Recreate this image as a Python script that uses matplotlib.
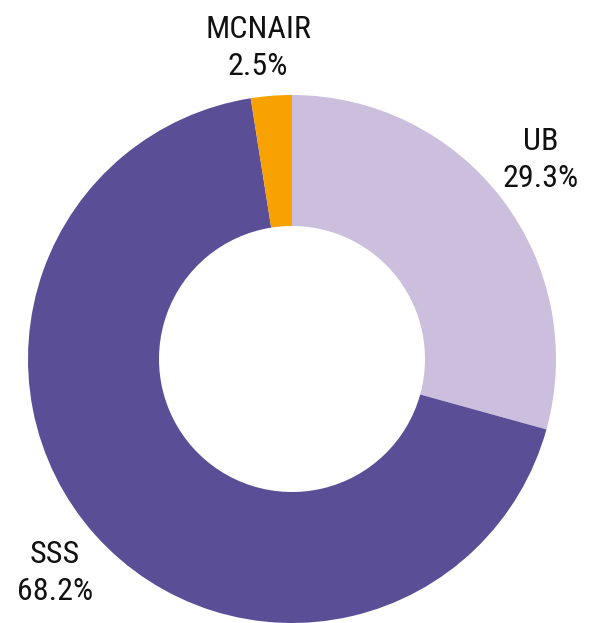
import matplotlib
matplotlib.use('Agg')
import matplotlib.pyplot as plt
from matplotlib import font_manager

names = ['UB', 'SSS', 'MCNAIR']
shares = [29.3, 68.2, 2.5]
colors = ['#CCBFDD', '#5A4F97', '#F7A200']

# label anchor spots in pixel coords (y measured from bottom)
label_xy = [(541, 463), (55, 50), (258, 575)]

avail = {f.name for f in font_manager.fontManager.ttflist}
fams = [f for f in ['Roboto Condensed', 'Liberation Sans Narrow', 'DejaVu Sans'] if f in avail]

fig = plt.figure(figsize=(6, 6.23), dpi=100)
ax = fig.add_axes([0, 0, 1, 1])
ax.pie(shares, colors=colors, startangle=90, counterclock=False,
       center=(292, 264), radius=264,
       wedgeprops=dict(width=131, linewidth=0))
ax.set_xlim(0, 600)
ax.set_ylim(0, 623)
ax.axis('off')

for n, s, (x, y) in zip(names, shares, label_xy):
    ax.text(x, y, f'{n}\n{s}%', ha='center', va='center', fontsize=23,
            family=fams, fontstretch='condensed', color='#111111',
            linespacing=1.38)

fig.savefig('out.png', dpi=100)
